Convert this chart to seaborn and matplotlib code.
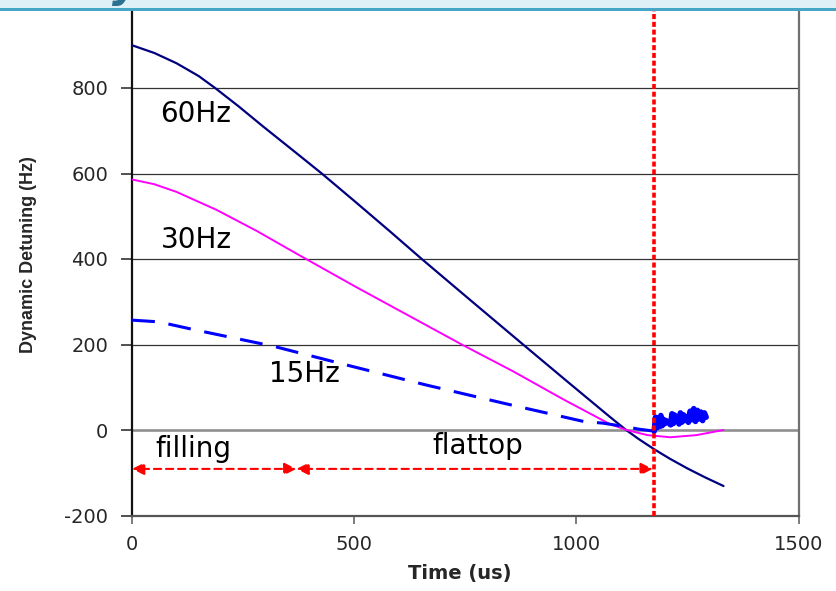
import matplotlib
matplotlib.use('Agg')
import matplotlib.pyplot as plt
import seaborn as sns
import pandas as pd
from matplotlib.patches import Rectangle

# (time in us, detuning in Hz)
t_60 = [0, 50, 100, 150, 187, 240, 295, 360, 427, 500, 580, 652, 760, 880, 980,
        1075, 1112, 1140, 1175, 1210, 1250, 1290, 1331]
d_60 = [900, 882, 858, 828, 800, 757, 710, 656, 600, 536, 465, 400, 305, 200, 113,
        31, 0, -21, -45, -67, -90, -111, -131]

t_30 = [0, 50, 100, 190, 280, 378, 505, 620, 742, 858, 970, 1075, 1113, 1160, 1211, 1270, 1331]
d_30 = [586, 575, 557, 515, 466, 408, 334, 269, 200, 137, 72, 14, 0, -12, -17, -12, 0]

t_15 = [0, 60, 138, 318, 483, 663, 843, 1016, 1060, 1109, 1140, 1170]
d_15 = [257, 253, 235, 196, 152, 105, 61, 20, 16, 8, 2, -2]

# noisy tail of the 15Hz trace after the flattop ends
t_15_tail = [1175, 1178, 1181, 1184, 1187, 1190, 1193, 1196, 1199, 1202,
             1212, 1215, 1218, 1221, 1224, 1227, 1231, 1234, 1237, 1240,
             1243, 1246, 1252, 1256, 1260, 1264, 1268, 1272, 1276, 1280,
             1284, 1288, 1292]
d_15_tail = [-3, 30, 5, 28, 8, 34, 10, 25, 15, 22,
             12, 38, 15, 35, 20, 30, 14, 40, 18, 36,
             22, 32, 18, 44, 24, 50, 20, 46, 26, 42,
             22, 40, 30]

t_rf_end = 1175
t_fill_end = 370
y_arrow = -91

curve_labels = ['60Hz', '30Hz', '15Hz']
label_pos = [(144, 721), (144, 425), (387, 113)]
phase_labels = ['filling', 'flattop']
phase_pos = [(137, -62), (777, -56)]

sns.set_style('white')
plt.rcParams['font.family'] = ['DejaVu Sans']
plt.rcParams['axes.unicode_minus'] = False

fig = plt.figure(figsize=(8.37, 5.91), dpi=100)
ax = fig.add_axes([132 / 837, 75.5 / 591, 666.6 / 837, 513 / 591])

df60 = pd.DataFrame({'t': t_60, 'd': d_60})
df30 = pd.DataFrame({'t': t_30, 'd': d_30})
df15 = pd.DataFrame({'t': t_15, 'd': d_15})
df15b = pd.DataFrame({'t': t_15_tail, 'd': d_15_tail})

ax.axhline(0, color='#8f8f8f', lw=1.8, zorder=1)
sns.lineplot(data=df60, x='t', y='d', color='#000080', lw=1.6, ax=ax, zorder=3)
sns.lineplot(data=df30, x='t', y='d', color='#FF00FF', lw=1.4, ax=ax, zorder=3)
sns.lineplot(data=df15, x='t', y='d', color='#0000FF', lw=2.2, ax=ax, zorder=3,
             linestyle=(0, (7.5, 4.5)))
sns.lineplot(data=df15b, x='t', y='d', color='#0000FF', lw=4, ax=ax, zorder=3,
             sort=False)

ax.axvline(t_rf_end, color='#FF0000', lw=2.6, linestyle=(0, (1.4, 0.75)), zorder=4)

arrow_kw = dict(arrowstyle='<|-|>,head_length=0.4,head_width=0.2', color='#FF0000',
                lw=1.5, linestyle=(0, (3.5, 2.3)), shrinkA=0, shrinkB=0,
                mutation_scale=18)
ax.annotate('', xy=(0, y_arrow), xytext=(t_fill_end, y_arrow), arrowprops=arrow_kw)
ax.annotate('', xy=(t_fill_end, y_arrow), xytext=(t_rf_end - 3, y_arrow), arrowprops=arrow_kw)

for txt, (x, y) in zip(curve_labels, label_pos):
    ax.text(x, y, txt, fontsize=20, ha='center', va='baseline', color='black')
for txt, (x, y) in zip(phase_labels, phase_pos):
    ax.text(x, y, txt, fontsize=20, ha='center', va='baseline', color='black')

ax.set_xlim(0, 1500)
ax.set_ylim(-200, 1000)
ax.set_xticks([0, 500, 1000, 1500])
ax.set_yticks(range(-200, 1001, 200))
ax.yaxis.grid(True, color='#333333', lw=0.9)
ax.xaxis.grid(False)

ax.tick_params(axis='y', left=True, direction='out', length=8, width=1.2,
               color='#333333', pad=9, labelsize=14)
ax.tick_params(axis='x', bottom=True, direction='out', length=6, width=1.2,
               color='#666666', pad=8, labelsize=14)

ax.spines['left'].set_color('#111111')
ax.spines['left'].set_linewidth(1.6)
ax.spines['bottom'].set_color('#555555')
ax.spines['bottom'].set_linewidth(1.6)
ax.spines['right'].set_color('#707070')
ax.spines['right'].set_linewidth(1.6)
ax.spines['top'].set_visible(False)

ax.set_xlabel('Time (us)', fontsize=14, fontweight='bold')
ax.set_ylabel('Dynamic Detuning (Hz)', fontsize=13, fontweight='bold',
              family=['Liberation Sans', 'DejaVu Sans'])
ax.xaxis.label.set_va('center')
ax.yaxis.label.set_va('center')
ax.xaxis.set_label_coords(0.491, -0.113)
ax.yaxis.set_label_coords(-0.155, 0.508)

# slide header band cutting off the top of the chart
fig.add_artist(Rectangle((0, 1 - 8.5 / 591), 1, 8.5 / 591, transform=fig.transFigure,
                         facecolor='#dff0f7', edgecolor='none', zorder=10))
fig.add_artist(Rectangle((0, 1 - 10.8 / 591), 1, 2.4 / 591, transform=fig.transFigure,
                         facecolor='#46a6c6', edgecolor='none', zorder=11))
fig.text(112 / 837, 1 + 3 / 591, 'y', fontsize=30, style='italic', fontweight='bold',
         color='#2b7290', va='baseline', zorder=12)

fig.savefig('out.png', dpi=100)
